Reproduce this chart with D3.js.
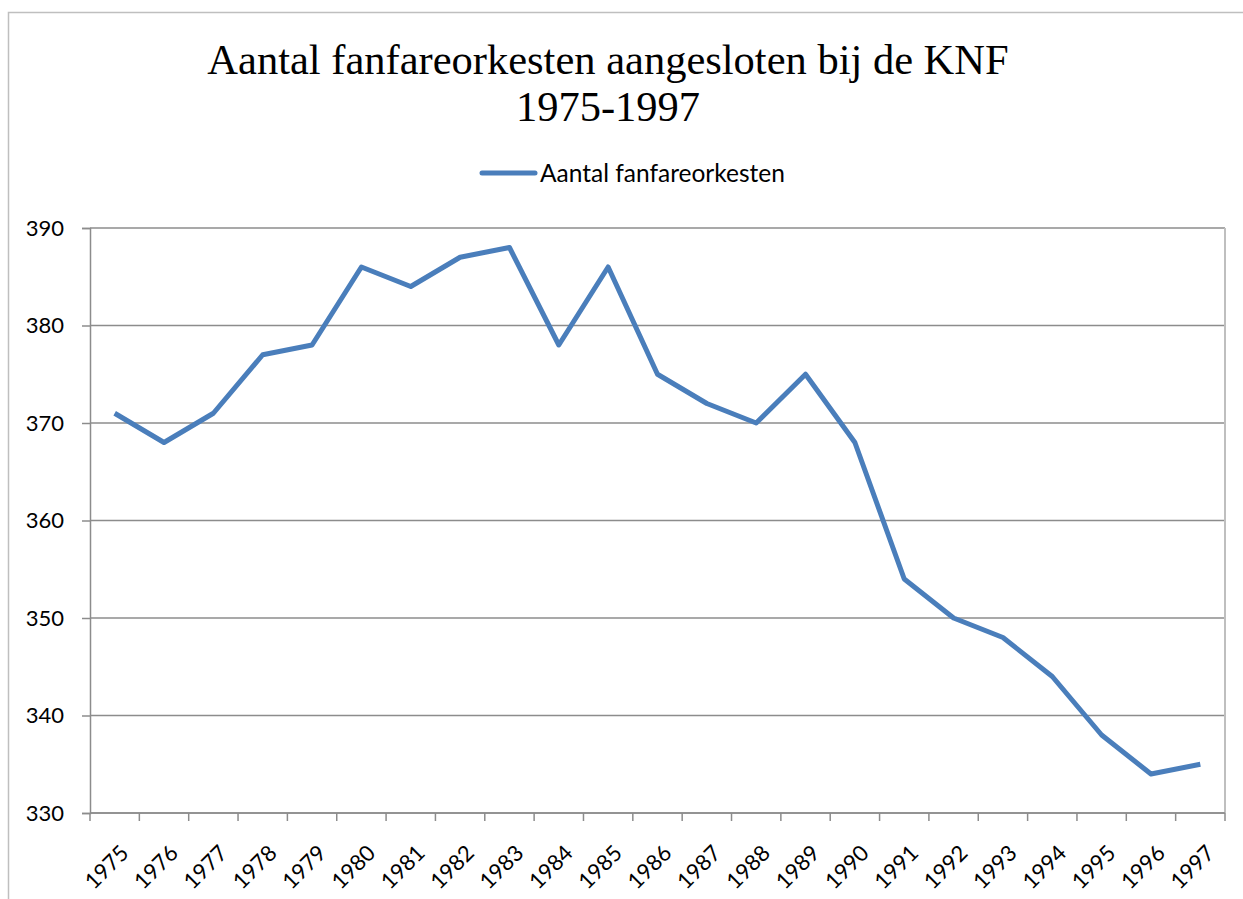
<!DOCTYPE html>
<html>
<head>
<meta charset="utf-8">
<script src="https://cdn.jsdelivr.net/npm/d3@7"></script>
<style>
  body { margin: 0; background: #fff; }
  svg text { fill: #000; }
</style>
</head>
<body>
<div id="chart"></div>
<script>
// data
var years = ["1975","1976","1977","1978","1979","1980","1981","1982","1983","1984","1985","1986",
             "1987","1988","1989","1990","1991","1992","1993","1994","1995","1996","1997"];
var orkesten = [371, 368, 371, 377, 378, 386, 384, 387, 388, 378, 386, 375,
                372, 370, 375, 368, 354, 350, 348, 344, 338, 334, 335];
var yTicks = [330, 340, 350, 360, 370, 380, 390];
var titleLines = ["Aantal fanfareorkesten aangesloten bij de KNF", "1975-1997"];
var seriesName = "Aantal fanfareorkesten";

var width = 1243, height = 899;
var margin = {left: 90, right: 18, top: 228, bottom: 86};
var sans = "Lato, 'Noto Sans', sans-serif";

var svg = d3.select("#chart").append("svg")
    .attr("width", width)
    .attr("height", height);

// chart border
svg.append("rect")
    .attr("x", 8.5).attr("y", 12.5)
    .attr("width", width + 20).attr("height", height + 20)
    .attr("fill", "none")
    .attr("stroke", "#bfbfbf")
    .attr("stroke-width", 1.5);

var x = d3.scaleBand()
    .domain(years)
    .range([margin.left, width - margin.right]);

var y = d3.scaleLinear()
    .domain([330, 390])
    .range([height - margin.bottom, margin.top]);

// gridlines
svg.append("g")
  .selectAll("line")
  .data(yTicks)
  .enter().append("line")
    .attr("x1", margin.left)
    .attr("x2", width - margin.right)
    .attr("y1", function(d){ return y(d) })
    .attr("y2", function(d){ return y(d) })
    .attr("stroke", "#8c8c8c")
    .attr("stroke-width", 1.5);

// right edge of plot area
svg.append("line")
    .attr("x1", width - margin.right).attr("x2", width - margin.right)
    .attr("y1", margin.top).attr("y2", height - margin.bottom)
    .attr("stroke", "#bfbfbf")
    .attr("stroke-width", 2);

// y axis
var yAxis = svg.append("g")
    .attr("transform", "translate(" + margin.left + ",0)")
    .call(d3.axisLeft(y).tickValues(yTicks).tickSize(8).tickPadding(8));
yAxis.select(".domain").attr("stroke", "#8c8c8c").attr("stroke-width", 1.5);
yAxis.selectAll(".tick line").attr("stroke", "#8c8c8c").attr("stroke-width", 1.5);
yAxis.selectAll(".tick text")
    .attr("font-family", sans)
    .attr("font-size", "22px")
    .attr("x", -26)
    .attr("fill", "#000");

// x axis: ticks at band edges, labels at band centres
var xg = svg.append("g")
    .attr("transform", "translate(0," + (height - margin.bottom) + ")");
xg.append("line")
    .attr("x1", margin.left).attr("x2", width - margin.right)
    .attr("stroke", "#8c8c8c").attr("stroke-width", 1.5);
var edges = years.map(function(d){ return x(d) }).concat([x(years[years.length - 1]) + x.bandwidth()]);
xg.selectAll(".edge")
  .data(edges)
  .enter().append("line")
    .attr("class", "edge")
    .attr("x1", function(d){ return d }).attr("x2", function(d){ return d })
    .attr("y1", 0).attr("y2", 8)
    .attr("stroke", "#8c8c8c").attr("stroke-width", 1.5);
xg.selectAll(".lbl")
  .data(years)
  .enter().append("text")
    .attr("class", "lbl")
    .attr("text-anchor", "end")
    .attr("font-family", sans)
    .attr("font-size", "22px")
    .attr("transform", function(d){
      return "translate(" + (x(d) + x.bandwidth() / 2 + 10) + ",36) rotate(-45)";
    })
    .attr("dy", "0.35em")
    .text(function(d){ return d });

// the line
var line = d3.line()
    .x(function(d, i){ return x(years[i]) + x.bandwidth() / 2 })
    .y(function(d){ return y(d) });

svg.append("path")
    .datum(orkesten)
    .attr("d", line)
    .attr("fill", "none")
    .attr("stroke", "#4a7ebb")
    .attr("stroke-width", 5)
    .attr("stroke-linejoin", "round");

// title
svg.append("g").selectAll("text")
  .data(titleLines)
  .enter().append("text")
    .attr("x", 608)
    .attr("y", function(d, i){ return 74 + i * 47 })
    .attr("text-anchor", "middle")
    .attr("font-family", "'Liberation Serif', 'Times New Roman', serif")
    .attr("font-size", "42.5px")
    .text(function(d){ return d });

// legend
var lg = svg.append("g").attr("transform", "translate(482,173)");
lg.append("line")
    .attr("x1", 0).attr("x2", 53)
    .attr("stroke", "#4a7ebb").attr("stroke-width", 5)
    .attr("stroke-linecap", "round");
lg.append("text")
    .attr("x", 58).attr("dy", "0.35em")
    .attr("font-family", sans)
    .attr("font-size", "24.5px")
    .text(seriesName);
</script>
</body>
</html>
